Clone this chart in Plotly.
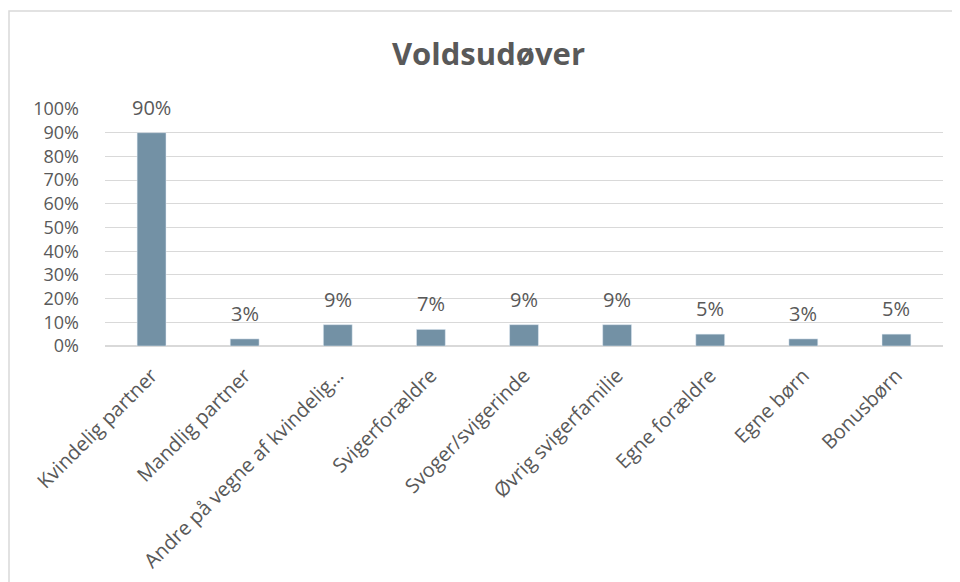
import plotly.graph_objects as go

categories = ["Kvindelig partner", "Mandlig partner", "Andre på vegne af kvindelig…",
              "Svigerforældre", "Svoger/svigerinde", "Øvrig svigerfamilie",
              "Egne forældre", "Egne børn", "Bonusbørn"]
values = [0.90, 0.03, 0.09, 0.07, 0.09, 0.09, 0.05, 0.03, 0.05]
value_labels = ["90%", "3%", "9%", "7%", "9%", "9%", "5%", "3%", "5%"]
y_ticks = [0, 0.1, 0.2, 0.3, 0.4, 0.5, 0.6, 0.7, 0.8, 0.9, 1.0]
y_tick_labels = ["0%", "10%", "20%", "30%", "40%", "50%", "60%", "70%", "80%", "90%", "100%"]

FONT = "Open Sans"
TXT = "#595959"

fig = go.Figure(go.Bar(
    x=categories, y=values, marker_color="#7391a5", width=0.31,
    hoverinfo="skip",
))

for c, v, t in zip(categories, values, value_labels):
    fig.add_annotation(x=c, y=v, text=t, showarrow=False, yanchor="bottom",
                       yshift=10, font=dict(family=FONT, size=20, color=TXT))

W, H = 960, 582
L, R, T, B = 97, 25, 101, 244
pw = W - L - R
ph = H - T - B

def px(x):
    return (x - L) / pw

def py(y):
    return (H - B - y) / ph

fig.add_shape(type="rect", xref="paper", yref="paper",
              x0=px(1), x1=px(990), y0=py(620), y1=py(3),
              line=dict(color="#d9d9d9", width=1.5), fillcolor="rgba(0,0,0,0)", layer="below")

fig.update_layout(
    width=W, height=H,
    margin=dict(l=L, r=R, t=T, b=B, autoexpand=False),
    plot_bgcolor="white", paper_bgcolor="white",
    showlegend=False,
    title=dict(text="<b>Voldsudøver</b>", x=0.5005, xanchor="center", y=0.921, yanchor="middle",
               font=dict(family=FONT, size=31, color=TXT)),
    font=dict(family=FONT, size=20, color=TXT),
)
fig.update_yaxes(range=[0, 1.0], tickvals=y_ticks, ticktext=y_tick_labels,
                 showgrid=True, gridcolor="#d9d9d9", gridwidth=1,
                 zeroline=True, zerolinecolor="#d9d9d9", zerolinewidth=1.5,
                 showline=False, ticks="", ticklabelstandoff=25, automargin=False,
                 tickfont=dict(family=FONT, size=18, color=TXT))
fig.update_xaxes(showgrid=False, showline=False, ticks="", tickangle=-45,
                 ticklabelstandoff=13, automargin=False,
                 tickfont=dict(family=FONT, size=20, color=TXT))

fig.write_html("out.html")
